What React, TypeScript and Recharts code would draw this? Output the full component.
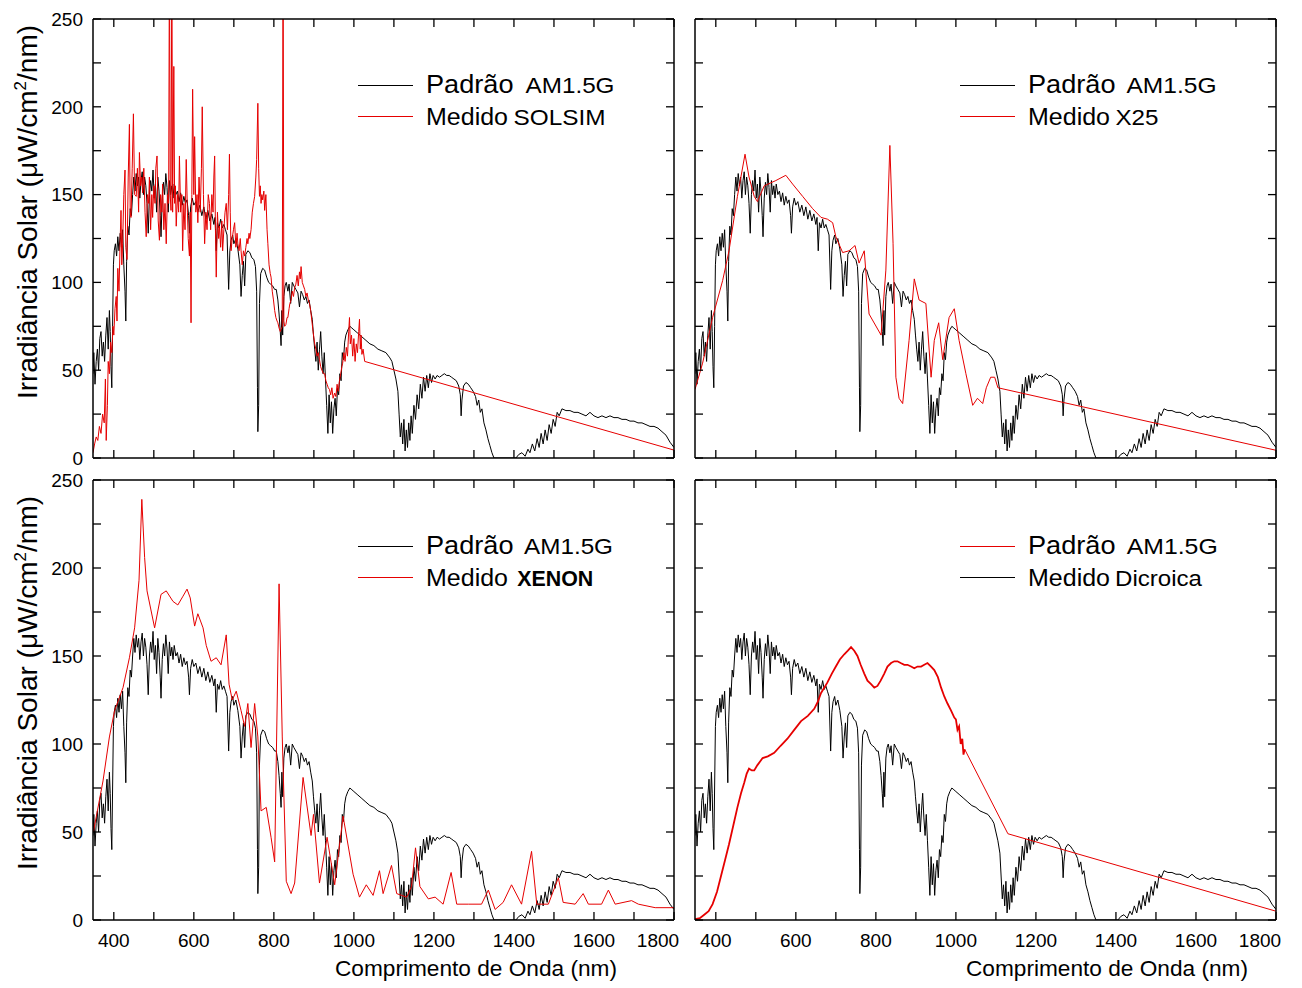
import React from 'react';
import { LineChart, Line, XAxis, YAxis, Legend } from 'recharts';

type Pt = [number, number];

const X_TICKS = [400, 500, 600, 700, 800, 900, 1000, 1100, 1200, 1300, 1400, 1500, 1600, 1700, 1800];
const Y_TICKS = [0, 25, 50, 75, 100, 125, 150, 175, 200, 225, 250];
const X_DOMAIN: [number, number] = [348, 1800];
const Y_DOMAIN: [number, number] = [0, 250];

const RED = '#e60000';
const FONT = '"Liberation Sans", Arial, Helvetica, sans-serif';

// AM1.5G reference spectrum (same curve in every panel)
const AM15G: Pt[] = [
  [348, 48], [350, 60], [353, 42], [356, 55], [359, 62], [362, 50], [365, 68], [368, 72], [371, 58],
  [374, 66], [377, 55], [380, 70], [383, 80], [386, 62], [389, 84], [391, 72], [393, 52], [395, 40],
  [397, 75], [399, 110], [401, 118], [404, 122], [407, 115], [410, 126], [413, 118], [416, 128],
  [419, 120], [422, 130], [425, 110], [428, 95], [430, 78], [432, 112], [435, 132], [438, 127],
  [441, 142], [444, 138], [447, 150], [450, 160], [453, 152], [456, 162], [459, 155], [462, 160],
  [465, 148], [468, 158], [471, 163], [474, 150], [477, 160], [480, 155], [483, 145], [486, 128],
  [489, 150], [492, 158], [495, 152], [498, 164], [501, 148], [504, 156], [507, 140], [510, 160],
  [513, 152], [516, 138], [518, 126], [521, 148], [524, 157], [527, 150], [530, 162], [533, 154],
  [536, 140], [539, 158], [542, 150], [545, 155], [548, 148], [551, 156], [555, 150], [559, 152],
  [563, 146], [567, 151], [571, 144], [575, 149], [579, 145], [583, 147], [587, 138], [589, 128],
  [592, 143], [596, 148], [600, 144], [605, 146], [610, 140], [615, 144], [620, 138], [625, 143],
  [630, 136], [635, 141], [640, 135], [645, 139], [650, 133], [653, 137], [656, 118], [659, 134],
  [663, 131], [667, 136], [671, 131], [675, 133], [679, 130], [683, 127], [687, 96], [690, 118],
  [693, 124], [697, 127], [700, 122], [705, 125], [710, 119], [715, 110], [718, 92], [721, 104],
  [724, 112], [727, 98], [730, 116], [735, 118], [740, 117], [745, 114], [750, 113], [754, 109],
  [757, 95], [759, 40], [760, 15], [762, 30], [764, 88], [767, 105], [772, 108], [777, 107],
  [782, 103], [787, 100], [792, 99], [797, 98], [802, 96], [806, 96], [810, 90], [813, 82],
  [816, 72], [818, 64], [820, 84], [822, 70], [825, 92], [828, 98], [831, 100], [835, 95],
  [838, 99], [842, 88], [846, 100], [850, 98], [855, 96], [860, 94], [864, 86], [868, 95],
  [872, 93], [876, 90], [880, 92], [884, 88], [888, 90], [892, 84], [896, 79], [899, 70],
  [902, 62], [905, 55], [908, 66], [911, 50], [914, 62], [917, 72], [920, 58], [923, 48],
  [926, 60], [929, 45], [932, 30], [935, 14], [938, 36], [941, 20], [944, 32], [947, 14],
  [950, 28], [953, 34], [956, 24], [959, 40], [962, 36], [965, 48], [968, 44], [971, 60],
  [974, 56], [977, 66], [980, 70], [985, 73], [990, 75], [995, 74], [1000, 73], [1010, 71],
  [1020, 69], [1030, 67], [1040, 65], [1050, 64], [1060, 62], [1070, 61], [1080, 60], [1090, 57],
  [1095, 55], [1100, 50], [1105, 45], [1110, 38], [1113, 25], [1116, 12], [1119, 20], [1122, 8],
  [1125, 22], [1128, 4], [1131, 16], [1134, 6], [1137, 20], [1140, 10], [1143, 24], [1146, 14],
  [1150, 30], [1154, 22], [1158, 36], [1162, 28], [1166, 42], [1170, 34], [1174, 46], [1178, 38],
  [1182, 47], [1186, 40], [1190, 48], [1194, 43], [1198, 47], [1203, 45], [1208, 47], [1214, 46],
  [1220, 47], [1226, 48], [1232, 47], [1238, 47], [1244, 46], [1250, 45], [1256, 44], [1262, 41],
  [1266, 36], [1268, 24], [1270, 33], [1274, 41], [1280, 43], [1286, 42], [1292, 40], [1298, 38],
  [1304, 35], [1308, 30], [1312, 33], [1316, 26], [1320, 28], [1325, 20], [1330, 16], [1335, 11],
  [1340, 7], [1345, 3], [1350, 0], [1405, 0], [1412, 2], [1420, 3], [1428, 1], [1435, 5],
  [1440, 3], [1446, 8], [1452, 4], [1458, 11], [1463, 6], [1468, 14], [1473, 8], [1478, 16],
  [1483, 10], [1488, 19], [1493, 14], [1498, 22], [1503, 18], [1508, 26], [1513, 24], [1520, 28],
  [1530, 27], [1540, 27], [1550, 26], [1560, 26], [1570, 25], [1580, 24], [1590, 26], [1600, 24],
  [1610, 23], [1620, 24], [1630, 23], [1640, 24], [1650, 23], [1660, 23], [1670, 22], [1680, 22],
  [1690, 21], [1700, 21], [1710, 20], [1720, 20], [1730, 19], [1740, 18], [1750, 18], [1760, 17],
  [1770, 15], [1780, 13], [1790, 9], [1800, 6],
];

const SOLSIM: Pt[] = [
  [348, 3], [352, 8], [356, 12], [360, 10], [364, 18], [368, 14], [372, 25], [376, 20], [379, 45],
  [381, 10], [384, 30], [386, 55], [389, 48], [392, 66], [395, 60], [398, 75], [400, 70], [403, 85],
  [406, 92], [408, 78], [410, 108], [413, 95], [416, 125], [418, 141], [420, 110], [422, 122],
  [425, 150], [428, 164], [430, 120], [433, 113], [436, 160], [439, 190], [441, 140], [443, 137],
  [446, 165], [449, 196], [452, 150], [456, 149], [459, 165], [462, 140], [464, 174], [467, 155],
  [470, 160], [472, 151], [475, 165], [478, 140], [481, 126], [484, 150], [487, 145], [489, 160],
  [492, 130], [495, 150], [497, 137], [500, 155], [503, 145], [505, 165], [508, 172], [511, 135],
  [514, 124], [517, 150], [520, 140], [522, 156], [525, 130], [528, 145], [531, 122], [534, 150],
  [537, 145], [539, 290], [541, 150], [543, 141], [545, 290], [547, 140], [550, 223], [552, 145],
  [554, 155], [556, 132], [559, 150], [562, 140], [564, 172], [567, 140], [570, 150], [572, 118],
  [575, 145], [578, 130], [581, 170], [584, 140], [586, 125], [589, 115], [591, 140], [593, 77],
  [595, 150], [597, 210], [600, 150], [602, 183], [605, 140], [608, 150], [610, 134], [613, 160],
  [616, 140], [619, 165], [621, 200], [624, 150], [627, 122], [630, 140], [633, 130], [636, 150],
  [639, 145], [642, 130], [645, 150], [648, 140], [650, 160], [652, 172], [654, 130], [656, 103],
  [659, 140], [662, 125], [664, 132], [667, 120], [670, 135], [672, 118], [675, 130], [678, 140],
  [681, 145], [684, 130], [687, 150], [689, 173], [691, 140], [693, 118], [696, 125], [699, 130],
  [702, 134], [705, 120], [708, 128], [710, 122], [713, 118], [716, 125], [718, 118], [721, 110],
  [724, 118], [727, 115], [730, 120], [733, 125], [735, 122], [738, 128], [740, 125], [743, 130],
  [746, 140], [749, 145], [752, 149], [755, 160], [757, 170], [760, 202], [762, 165], [764, 149],
  [766, 155], [768, 145], [770, 150], [772, 147], [775, 152], [777, 141], [780, 150], [783, 130],
  [785, 122], [788, 110], [791, 105], [793, 103], [796, 95], [799, 90], [802, 84], [805, 80],
  [808, 78], [810, 77], [813, 74], [816, 72], [818, 73], [821, 75], [823, 300], [825, 78],
  [827, 75], [830, 76], [833, 80], [835, 80], [838, 85], [840, 88], [843, 90], [846, 95],
  [849, 92], [852, 97], [855, 99], [858, 104], [861, 98], [864, 106], [866, 102], [868, 109],
  [871, 100], [874, 98], [877, 96], [880, 92], [883, 94], [886, 90], [889, 88], [892, 84],
  [895, 78], [898, 72], [902, 65], [905, 62], [908, 58], [911, 60], [914, 56], [917, 52],
  [920, 50], [924, 48], [927, 48], [930, 44], [933, 42], [936, 40], [939, 39], [942, 36],
  [945, 40], [948, 34], [952, 37], [955, 35], [958, 42], [961, 38], [964, 44], [967, 48],
  [970, 52], [972, 54], [975, 60], [978, 55], [981, 63], [984, 58], [987, 72], [989, 80],
  [991, 65], [994, 70], [997, 58], [1000, 68], [1003, 55], [1006, 65], [1009, 60], [1012, 72],
  [1014, 79], [1016, 62], [1018, 70], [1020, 59], [1023, 62], [1027, 55], [1800, 4.5],
];

const X25: Pt[] = [
  [348, 39], [367, 54], [392, 80], [417, 101], [433, 118], [454, 149], [473, 173], [483, 160],
  [496, 149], [504, 146], [521, 155], [550, 158], [575, 161], [592, 156], [617, 149], [642, 142],
  [663, 137], [679, 136], [692, 134], [700, 126], [717, 117], [733, 118], [748, 121], [758, 111],
  [771, 118], [783, 82], [813, 70], [825, 107], [835, 178], [843, 122], [850, 46], [858, 34],
  [867, 31], [883, 67], [896, 102], [908, 90], [925, 88], [938, 46], [946, 67], [957, 77],
  [967, 56], [983, 80], [996, 85], [1008, 67], [1025, 48], [1042, 30], [1054, 34], [1067, 31],
  [1076, 40], [1087, 46], [1097, 46], [1105, 40], [1800, 4.4],
];

const XENON: Pt[] = [
  [349, 50], [373, 79], [389, 104], [402, 119], [423, 132], [439, 149], [452, 166], [463, 193],
  [470, 239], [477, 206], [483, 187], [502, 166], [518, 185], [531, 187], [548, 181], [560, 179],
  [573, 184], [583, 188], [591, 183], [602, 167], [610, 174], [623, 166], [631, 156], [643, 147],
  [656, 149], [668, 145], [681, 162], [688, 134], [696, 125], [706, 130], [718, 119], [727, 110],
  [735, 123], [743, 98], [752, 123], [760, 104], [768, 62], [781, 64], [793, 47], [802, 33],
  [813, 191], [821, 104], [831, 22], [843, 15], [852, 21], [873, 81], [893, 48], [899, 60],
  [914, 21], [933, 47], [952, 20], [973, 59], [998, 26], [1014, 13], [1031, 20], [1048, 14],
  [1064, 28], [1073, 15], [1094, 31], [1107, 15], [1119, 14], [1132, 13], [1144, 19], [1154, 41],
  [1165, 19], [1186, 12], [1203, 13], [1223, 9], [1243, 27], [1257, 9], [1286, 9], [1319, 9],
  [1336, 17], [1353, 6], [1373, 10], [1394, 20], [1419, 9], [1444, 39], [1457, 9], [1486, 9],
  [1511, 24], [1523, 10], [1553, 9], [1573, 15], [1586, 9], [1619, 9], [1636, 17], [1653, 9],
  [1694, 11], [1711, 9], [1753, 7], [1800, 7],
];

// dichroic lamp: measured curve, then the straight tail drawn thinner
const DICROICA: Pt[] = [
  [348, 0.4], [360, 1], [371, 3], [382, 5], [392, 9], [403, 16], [413, 25], [423, 34], [433, 43],
  [444, 54], [454, 64], [463, 72], [471, 78], [477, 83], [483, 86], [490, 85], [496, 85],
  [504, 88], [517, 92], [530, 93], [546, 95], [562, 99], [579, 103], [596, 108], [613, 113],
  [630, 116], [646, 120], [655, 124], [663, 129], [671, 132], [679, 135], [690, 140], [700, 144],
  [710, 148], [721, 151], [730, 153], [738, 155], [746, 153], [754, 150], [762, 145], [771, 140],
  [779, 136], [788, 134], [796, 132], [804, 133], [812, 136], [821, 140], [829, 144], [838, 146],
  [846, 147], [854, 147], [862, 146], [871, 145], [879, 145], [888, 144], [896, 143], [904, 144],
  [913, 144], [921, 145], [929, 146], [938, 144], [946, 142], [955, 138], [963, 132], [971, 127],
  [979, 123], [988, 119], [996, 115], [1000, 114], [1004, 108], [1008, 110], [1012, 100],
  [1016, 103], [1019, 94], [1022, 97],
];
const DICROICA_TAIL: Pt[] = [[1022, 97], [1130, 49], [1800, 5]];

const toRows = (pts: Pt[]) => pts.map(([wl, v]) => ({ wl, v }));

const YW = 95; // left axis band (tick labels + title)
const XH = 70; // bottom axis band
const RM = 12;
const TM = 14; // room above the plot for the top tick label

type Series = { pts: Pt[]; color: string; width: number; name: string };
type LegendRow = { color: string; a: string; b: string; bx: number; bw: number; bold?: boolean };

type PanelProps = {
  px: number;
  py: number;
  pw: number;
  ph: number;
  xLabels: boolean;
  yLabels: boolean;
  xTitleX?: number;
  yTitleY?: number;
  series: Series[];
  legend: LegendRow[];
};

function Panel({ px, py, pw, ph, xLabels, yLabels, xTitleX, yTitleY, series, legend }: PanelProps) {
  const width = YW + pw + 1 + RM;
  const height = TM + 1 + ph + XH;

  const xTick = (p: any) => {
    const v = p.payload.value;
    if (!xLabels || v % 200 !== 0) return <g />;
    return (
      <text x={v === 1800 ? p.x - 16 : p.x} y={p.y + 12} textAnchor="middle" fontSize={19} fontFamily={FONT} fill="#000">
        {v}
      </text>
    );
  };
  const yTick = (p: any) => {
    const v = p.payload.value;
    if (!yLabels || v % 50 !== 0) return <g />;
    return (
      <text x={p.x} y={p.y} dy="0.36em" textAnchor="end" fontSize={19} fontFamily={FONT} fill="#000">
        {v}
      </text>
    );
  };
  const emptyTick = () => <g />;

  const xTitle = (p: any) => {
    if (xTitleX === undefined) return null;
    const vb = p.viewBox;
    return (
      <text x={vb.x + xTitleX} y={vb.y + 56} textAnchor="middle" fontSize={22} fontFamily={FONT} fill="#000" textLength={282} lengthAdjust="spacingAndGlyphs">
        Comprimento de Onda (nm)
      </text>
    );
  };
  const yTitle = (p: any) => {
    if (yTitleY === undefined) return null;
    const vb = p.viewBox;
    const cx = vb.x + vb.width - 56;
    const cy = vb.y + yTitleY;
    return (
      <text transform={`translate(${cx},${cy}) rotate(-90)`} textAnchor="middle" fontSize={28} fontFamily={FONT} fill="#000">
        Irradiância Solar (μW/cm
        <tspan dy={-11} fontSize={17}>2</tspan>
        <tspan dy={11}>/nm)</tspan>
      </text>
    );
  };

  const legendContent = () => (
    <svg width={pw} height={130} style={{ display: 'block' }}>
      {legend.map((r, i) => {
        const ly = i === 0 ? 66.5 : 97.5;
        const by = i === 0 ? 74 : 106;
        return (
          <g key={i}>
            <line x1={265} x2={320} y1={ly} y2={ly} stroke={r.color} strokeWidth={1} />
            <text x={333} y={by} fontSize={i === 0 ? 26 : 23} fontFamily={FONT} fill="#000" textLength={i === 0 ? 87.5 : 82} lengthAdjust="spacingAndGlyphs">
              {r.a}
            </text>
            <text x={r.bx} y={by} fontSize={22} fontWeight={r.bold ? 700 : 400} fontFamily={FONT} fill="#000" textLength={r.bw} lengthAdjust="spacingAndGlyphs">
              {r.b}
            </text>
          </g>
        );
      })}
    </svg>
  );

  const axisLine = { stroke: '#000', strokeWidth: 1.5 };
  const tickLine = { stroke: '#000', strokeWidth: 1.3 };

  return (
    <div style={{ position: 'absolute', left: px - YW, top: py - 1 - TM, width, height }}>
      <LineChart width={width} height={height} margin={{ top: TM, right: RM, bottom: 0, left: 0 }}>
        <XAxis
          xAxisId="b"
          type="number"
          dataKey="wl"
          domain={X_DOMAIN}
          allowDataOverflow
          ticks={X_TICKS}
          interval={0}
          height={XH}
          tickSize={-8}
          tickMargin={23}
          tick={xTick}
          axisLine={axisLine}
          tickLine={tickLine}
          label={xTitle}
        />
        <XAxis
          xAxisId="t"
          orientation="top"
          type="number"
          dataKey="wl"
          domain={X_DOMAIN}
          allowDataOverflow
          ticks={X_TICKS}
          interval={0}
          height={1}
          tickSize={-8}
          tick={emptyTick}
          axisLine={axisLine}
          tickLine={tickLine}
        />
        <YAxis
          yAxisId="l"
          type="number"
          domain={Y_DOMAIN}
          allowDataOverflow
          ticks={Y_TICKS}
          interval={0}
          width={YW}
          tickSize={-8}
          tickMargin={18}
          tick={yTick}
          axisLine={axisLine}
          tickLine={tickLine}
          label={yTitle}
        />
        <YAxis
          yAxisId="r"
          orientation="right"
          type="number"
          domain={Y_DOMAIN}
          allowDataOverflow
          ticks={Y_TICKS}
          interval={0}
          width={1}
          tickSize={-8}
          tick={emptyTick}
          axisLine={axisLine}
          tickLine={tickLine}
        />
        {series.map((s) => (
          <Line
            key={s.name}
            name={s.name}
            xAxisId="b"
            yAxisId="l"
            data={toRows(s.pts)}
            dataKey="v"
            type="linear"
            stroke={s.color}
            strokeWidth={s.width}
            dot={false}
            activeDot={false}
            isAnimationActive={false}
          />
        ))}
        <Legend
          layout="horizontal"
          verticalAlign="middle"
          align="center"
          content={legendContent}
          wrapperStyle={{ position: 'absolute', left: YW, top: TM + 1, width: pw, height: 130 }}
        />
      </LineChart>
    </div>
  );
}

export default function App() {
  return (
    <div style={{ position: 'absolute', left: 0, top: 0, width: 1302, height: 988, background: '#fff', fontFamily: FONT }}>
      <Panel
        px={93}
        py={19}
        pw={581}
        ph={439}
        xLabels={false}
        yLabels
        yTitleY={193}
        series={[
          { pts: AM15G, color: '#000', width: 1, name: 'Padrão AM1.5G' },
          { pts: SOLSIM, color: RED, width: 1, name: 'Medido SOLSIM' },
        ]}
        legend={[
          { color: '#000', a: 'Padrão', b: 'AM1.5G', bx: 432.5, bw: 89 },
          { color: RED, a: 'Medido', b: 'SOLSIM', bx: 420.5, bw: 92 },
        ]}
      />
      <Panel
        px={694.5}
        py={19}
        pw={581}
        ph={439}
        xLabels={false}
        yLabels={false}
        series={[
          { pts: AM15G, color: '#000', width: 1, name: 'Padrão AM1.5G' },
          { pts: X25, color: RED, width: 1, name: 'Medido X25' },
        ]}
        legend={[
          { color: '#000', a: 'Padrão', b: 'AM1.5G', bx: 431.5, bw: 90 },
          { color: RED, a: 'Medido', b: 'X25', bx: 420.5, bw: 43 },
        ]}
      />
      <Panel
        px={93}
        py={480}
        pw={581}
        ph={440}
        xLabels
        yLabels
        xTitleX={383}
        yTitleY={203}
        series={[
          { pts: AM15G, color: '#000', width: 1, name: 'Padrão AM1.5G' },
          { pts: XENON, color: RED, width: 1, name: 'Medido XENON' },
        ]}
        legend={[
          { color: '#000', a: 'Padrão', b: 'AM1.5G', bx: 431, bw: 89 },
          { color: RED, a: 'Medido', b: 'XENON', bx: 424.3, bw: 76, bold: true },
        ]}
      />
      <Panel
        px={695}
        py={480}
        pw={581}
        ph={440}
        xLabels
        yLabels={false}
        xTitleX={412}
        series={[
          { pts: AM15G, color: '#000', width: 1, name: 'Padrão AM1.5G' },
          { pts: DICROICA, color: RED, width: 1.8, name: 'Medido Dicroica' },
          { pts: DICROICA_TAIL, color: RED, width: 1, name: 'Medido Dicroica (cauda)' },
        ]}
        legend={[
          { color: RED, a: 'Padrão', b: 'AM1.5G', bx: 431.7, bw: 91 },
          { color: '#000', a: 'Medido', b: 'Dicroica', bx: 420, bw: 87 },
        ]}
      />
    </div>
  );
}
